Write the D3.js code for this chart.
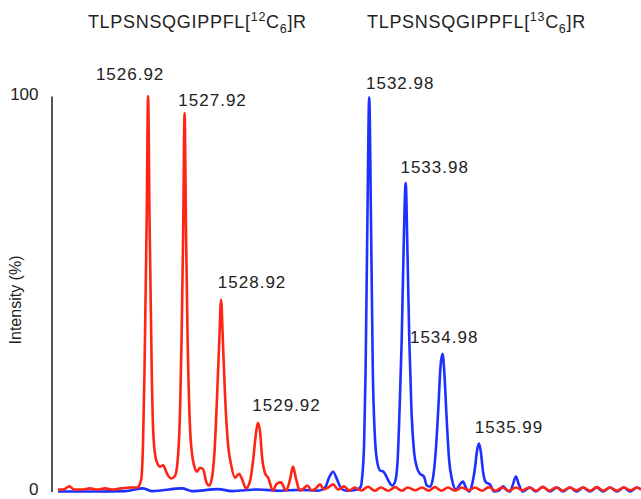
<!DOCTYPE html>
<html><head><meta charset="utf-8">
<script src="https://cdn.jsdelivr.net/npm/d3@7"></script>
<style>body{margin:0;background:#fff}svg{display:block}</style>
</head><body>
<svg id="chart" width="641" height="499"></svg>
<script>
// ---- data (m/z vs relative intensity %) ----
const redMz = [1524.45,1524.59,1524.76,1524.89,1525.11,1525.33,1525.52,1525.74,1525.96,1526.18,1526.43,1526.62,1526.73,1526.78,1526.82,1526.88,1526.92,1526.96,1527.02,1527.06,1527.14,1527.25,1527.33,1527.44,1527.55,1527.66,1527.74,1527.80,1527.84,1527.88,1527.92,1527.96,1528.00,1528.06,1528.13,1528.18,1528.26,1528.34,1528.43,1528.51,1528.59,1528.67,1528.74,1528.81,1528.87,1528.92,1528.97,1529.03,1529.11,1529.19,1529.30,1529.41,1529.50,1529.60,1529.71,1529.80,1529.88,1529.93,1529.99,1530.04,1530.13,1530.21,1530.34,1530.45,1530.56,1530.70,1530.81,1530.89,1530.98,1531.08,1531.19,1531.28,1531.41,1531.52,1531.63,1531.74,1531.85,1531.99,1532.13,1532.29,1532.43,1532.59,1532.76,1532.95,1533.13,1533.30,1533.50,1533.69,1533.87,1534.04,1534.24,1534.43,1534.61,1534.78,1534.96,1535.14,1535.33,1535.52,1535.70,1535.88,1536.07,1536.26,1536.44,1536.62,1536.81,1537.00,1537.18,1537.36,1537.55,1537.74,1537.92,1538.10,1538.29,1538.48,1538.66,1538.84,1539.03,1539.22,1539.40,1539.58,1539.77,1539.96,1540.14,1540.32,1540.43];
const redInt = [0.5,0.5,1.3,0.5,0.5,0.8,0.5,0.8,0.5,0.8,1.0,1.0,3,12,30,68,100,68,30,15,8,6.3,6.6,4.5,3.3,4.0,9,22,40,65,95.7,65,40,18,9,6.6,5.0,6.0,5.6,2.5,1.5,3.5,10,24,38,48.5,38,24,12,7,3.5,4.5,3.0,0.8,2.5,8,15,17.4,15,9,4.5,3.5,0.25,2.0,2.3,0.25,3.0,6.3,3.0,0.25,0.8,1.5,0.25,0.8,1.8,0.5,1.0,1.8,0.5,1.3,0.25,1.0,0.25,1.2,0.2,1.0,0.2,1.1,0.2,1.0,0.3,1.0,0.2,1.1,0.2,1.0,0.2,1.0,0.3,1.0,0.2,1.1,0.2,1.0,0.2,1.0,0.3,1.0,0.2,1.1,0.2,1.0,0.2,1.0,0.3,1.0,0.2,1.1,0.2,1.0,0.2,1.0,0.3,1.0,0.5];

const blueMz = [1524.45,1525.61,1526.29,1526.78,1527.03,1527.85,1528.13,1528.84,1529.22,1529.93,1530.54,1531.08,1531.58,1531.77,1531.88,1531.99,1532.10,1532.21,1532.35,1532.67,1532.76,1532.78,1532.84,1532.88,1532.93,1532.98,1533.03,1533.08,1533.13,1533.19,1533.28,1533.36,1533.44,1533.52,1533.61,1533.69,1533.76,1533.81,1533.87,1533.92,1533.98,1534.03,1534.08,1534.14,1534.21,1534.29,1534.37,1534.48,1534.56,1534.65,1534.73,1534.81,1534.88,1534.93,1534.99,1535.04,1535.10,1535.17,1535.25,1535.36,1535.47,1535.55,1535.63,1535.72,1535.80,1535.88,1535.93,1535.99,1536.04,1536.10,1536.18,1536.29,1536.40,1536.54,1536.65,1536.76,1536.84,1536.92,1537.00,1537.08,1537.19,1537.39,1537.55,1537.74,1537.93,1538.13,1538.29,1538.48,1538.67,1538.84,1539.03,1539.22,1539.39,1539.58,1539.77,1539.96,1540.13,1540.32,1540.43];
const blueInt = [0,0,0.1,0.8,0.1,0.8,0.1,0.6,0.1,0.5,0.2,0.4,0.2,1.0,3.5,5.0,3.0,0.8,0.2,0.5,1.5,3,12,30,68,99.7,68,30,15,8,5.3,5.1,4.0,2.5,1.5,2.5,8,20,38,60,78,60,38,20,10,6,4.5,3.8,1.5,1.2,3.5,11,22,31,34.8,30,19,8,3,0.5,1.8,2.5,1.0,0,1.8,6,10,12.1,10,5,2.3,1.8,0,0.3,1.3,0.3,0,1.8,3.8,1.8,0,1.0,0,1.2,0,1.0,0,1.0,0,1.0,0,1.0,0,1.0,0,1.0,0,1.0,0.5];

const peakMz   = [1526.92,1527.92,1528.92,1529.92,1532.98,1533.98,1534.98,1535.99];
const peakInt  = [100,96,48.5,17.4,99.7,78,34.8,12.1];
const peakText = ["1526.92","1527.92","1528.92","1529.92","1532.98","1533.98","1534.98","1535.99"];

const yTicks = [0, 100];
const yTitle = "Intensity (%)";
const titleMz = [1528.27, 1535.92];
const titleIso = ["12", "13"];

// ---- layout ----
const W = 641, H = 499;
const x = d3.scaleLinear().domain([1524.45, 1540.43]).range([58, 641]);
const y = d3.scaleLinear().domain([0, 100]).range([491.5, 96]);
const labelOff = [[-18,-16],[28,-6],[31,-12],[29,-12],[31,-8],[29,-10],[2,-11],[30,-11]];
const FONT = "'Liberation Sans', Arial, Helvetica, sans-serif";
const RED = "#ff2414", BLUE = "#1c30ff";

const svg = d3.select("#chart");
svg.append("rect").attr("width", W).attr("height", H).attr("fill", "#fff");

const line = d3.line().x(d => x(d[0])).y(d => y(d[1])).curve(d3.curveMonotoneX);
const blue = blueMz.map((m, i) => [m, blueInt[i]]);
const red = redMz.map((m, i) => [m, redInt[i]]);

svg.append("path").datum(blue).attr("d", line).attr("fill", "none")
  .attr("stroke", BLUE).attr("stroke-width", 2.6).attr("stroke-linejoin", "round");
svg.append("path").datum(red).attr("d", line).attr("fill", "none")
  .attr("stroke", RED).attr("stroke-width", 2.6).attr("stroke-linejoin", "round");

// y axis
const ax = svg.append("g").attr("transform", "translate(51.5,0)")
  .call(d3.axisLeft(y).tickValues(yTicks).tickSize(0).tickPadding(13).tickFormat(d3.format("d")));
ax.select(".domain").attr("stroke", "#555").attr("stroke-width", 2);
ax.selectAll("text").attr("font-family", FONT).attr("font-size", 17).attr("fill", "#222")
  .attr("dy", "0.2em");

svg.append("text").attr("transform", "translate(21,300) rotate(-90)")
  .attr("text-anchor", "middle").attr("font-family", FONT).attr("font-size", 16)
  .attr("fill", "#222").text(yTitle);

// peak labels
svg.selectAll("text.pk").data(peakMz).join("text").attr("class", "pk")
  .attr("x", (d, i) => x(d) + labelOff[i][0])
  .attr("y", (d, i) => y(peakInt[i]) + labelOff[i][1])
  .attr("text-anchor", "middle").attr("font-family", FONT).attr("font-size", 17)
  .attr("letter-spacing", 1).attr("fill", "#222")
  .text((d, i) => peakText[i]);

// titles
titleMz.forEach((m, i) => {
  const t = svg.append("text").attr("x", x(m)).attr("y", 28).attr("text-anchor", "middle")
    .attr("font-family", FONT).attr("font-size", 18).attr("letter-spacing", 0.7).attr("fill", "#222");
  t.append("tspan").text("TLPSNSQGIPPFL[");
  t.append("tspan").attr("font-size", 12.5).attr("dy", -7.5).text(titleIso[i]);
  t.append("tspan").attr("dy", 7.5).text("C");
  t.append("tspan").attr("font-size", 12.5).attr("dy", 4.5).text("6");
  t.append("tspan").attr("dy", -4.5).text("]R");
});
</script>
</body></html>
